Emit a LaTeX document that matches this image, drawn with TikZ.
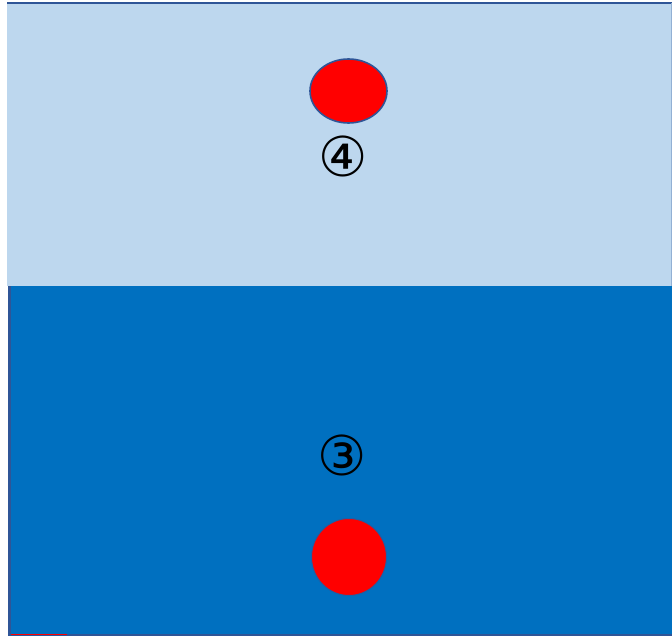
\documentclass[tikz,border=0pt]{standalone}
\usepackage{fontspec}
\usepackage{tikz}
\usetikzlibrary{positioning,calc}
\newfontfamily\symfont{DejaVu Sans}
\definecolor{skyband}{HTML}{BDD7EE}
\definecolor{deepband}{HTML}{0070C0}
\definecolor{edgec}{HTML}{2F5597}
\definecolor{ballc}{HTML}{FF0000}
\tikzset{
  band/.style={draw=none,inner sep=0pt,outer sep=0pt,anchor=north west},
  ball/.style={ellipse,fill=ballc,draw=edgec,line width=1.6pt,inner sep=0pt},
  tag/.style={font=\symfont\fontsize{55}{55}\selectfont,inner sep=0pt,text=black},
}
\usetikzlibrary{shapes.geometric}
\begin{document}
\begin{tikzpicture}[x=1pt,y=-1pt]
  \useasboundingbox (0,0) rectangle (672,637);
  \fill[white] (0,0) rectangle (672,637);
  % --- the two layers ---
  \node[band,fill=skyband,minimum width=665pt,minimum height=283pt] (upper) at (7,3) {};
  \node[band,fill=deepband,minimum width=664pt,minimum height=349pt] (lower) at (8,286) {};
  \draw[edgec,line width=1.5pt] (upper.north west) -- (upper.north east);
  \draw[skyband!70!edgec,line width=1pt] ([xshift=-0.5pt]upper.north east) -- ([xshift=-0.5pt]upper.south east);
  \draw[edgec,line width=2.5pt] ([xshift=1.5pt]lower.north west) -- ([xshift=1.5pt]lower.south west);
  \draw[edgec,line width=1.5pt] (lower.south west) -- (lower.south east);
  \draw[ballc,line width=1.2pt] ([xshift=3pt,yshift=0.7pt]lower.south west) -- ([xshift=59pt,yshift=0.7pt]lower.south west);
  % --- particles and labels ---
  \node[ball,minimum width=77pt,minimum height=64pt] (top ball) at (348.5,91) {};
  \node[tag] (four) at (343,156) {④};
  \node[tag] (three) at (342,455) {③};
  \node[ball,draw=edgec!60!deepband,line width=1pt,minimum width=75pt,minimum height=77pt] (low ball) at (349,557) {};
\end{tikzpicture}
\end{document}
